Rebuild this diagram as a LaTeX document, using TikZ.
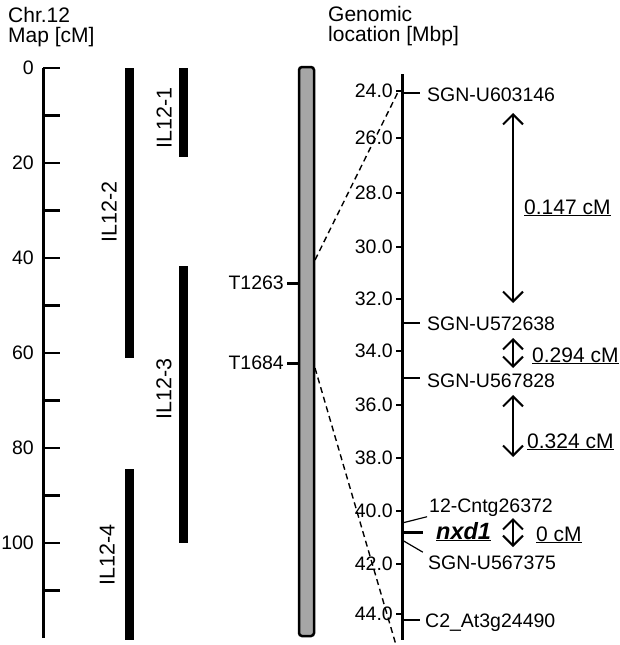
\documentclass[tikz,border=0pt]{standalone}
\usepackage{fontspec}
\setmainfont{Liberation Sans}
\usetikzlibrary{arrows.meta}
\tikzset{
	lbl/.style = {inner sep=0pt, font=\fontsize{19.5}{21}\selectfont},
	title_lbl/.style = {inner sep=0pt, anchor=north west, align=left,
		font=\fontsize{21}{20.5}\selectfont},% column headings
	tick_lbl/.style = {lbl, anchor=east},% axis numbers
	mrk_lbl/.style = {lbl, anchor=base west},% marker names
	dist_lbl/.style = {mrk_lbl, font=\fontsize{21}{22}\selectfont},% distances
	il_lbl/.style = {inner sep=0pt, rotate=90,
		font=\fontsize{21.5}{22}\selectfont},% introgression line names
	il_bar/.style = {fill=black},
	chrom/.style = {draw=black, fill=black!35, line width=2.5pt,
		rounded corners=3pt},
	axis/.style = {line width=3pt},
	tick/.style = {line width=2.5pt},
	mrk_line/.style = {line width=1.2pt},
	link/.style = {line width=1.4pt, dash pattern=on 6pt off 4pt},
	cm_arr/.style = {{Straight Barb[length=10pt,width=20pt]}-{Straight Barb[length=10pt,width=20pt]},
		line width=2pt}
}

\begin{document}
\begin{tikzpicture}[x=1pt, y=-1pt]
	\useasboundingbox (0,0) rectangle (619,645);
	% titles
	\node[title_lbl] (maptitle) at (8,7) {Chr.12\\Map [cM]};
	\node[title_lbl] (loctitle) at (328,6) {Genomic\\location [Mbp]};
	% map axis
	\coordinate (cmtop) at (43,68);
	\coordinate (cmbot) at (43,638);
	\draw[axis] (cmtop) -- (cmbot);
	\foreach \c in {0,10,...,110}{
		\coordinate (cm\c) at (43,{68+4.75*\c});
		\draw[tick] (cm\c) -- ++(17,0);
	}
	\foreach \c in {0,20,...,100}
		\node[tick_lbl] (cmlbl\c) at ([xshift=-9pt]cm\c) {\c};
	% introgression lines
	\fill[il_bar] (125,68) rectangle (134,358);
	\fill[il_bar] (179,68) rectangle (188,157);
	\fill[il_bar] (179,266) rectangle (188,543);
	\fill[il_bar] (125,469) rectangle (134,640);
	\node[il_lbl] (il2) at (109,212) {IL12-2};
	\node[il_lbl] (il1) at (164,118) {IL12-1};
	\node[il_lbl] (il3) at (164,389) {IL12-3};
	\node[il_lbl] (il4) at (107,555) {IL12-4};
	% chromosome
	\draw[chrom] (299,67) rectangle (314,636);
	\coordinate (c1263) at (299,283);
	\coordinate (c1684) at (299,363);
	\node[tick_lbl] (t1263) at (284,283) {T1263};
	\node[tick_lbl] (t1684) at (284,363) {T1684};
	\draw[tick, line width=3pt] ([xshift=3pt]t1263.east) -- (c1263);
	\draw[tick, line width=3pt] ([xshift=3pt]t1684.east) -- (c1684);
	\coordinate (chr_a) at (315,260);
	\coordinate (chr_b) at (315,368);
	\coordinate (ax_a) at (399,90);
	\coordinate (ax_b) at (396,645);
	\draw[link] (chr_a) -- (ax_a);
	\draw[link] (chr_b) -- (ax_b);
	% physical axis
	\coordinate (mbtop) at (402,74);
	\coordinate (mbbot) at (402,640);
	\draw[axis] (mbtop) -- (mbbot);
	\foreach \v/\y [count=\i] in {24.0/91,26.0/138,28.0/193,30.0/247,32.0/299,
			34.0/351,36.0/405,38.0/458,40.0/511,42.0/564,44.0/614}{
		\coordinate (mb\i) at (402,\y);
		\draw[tick] (mb\i) -- ++(-6,0);
		\node[tick_lbl] (mblbl\i) at ([xshift=-9pt]mb\i) {\v};
	}
	% markers
	\coordinate (ax603146) at (402,93);
	\coordinate (ax572638) at (402,323);
	\coordinate (ax567828) at (402,378);
	\coordinate (ax26372) at (402,523);
	\coordinate (axnxd) at (402,532);
	\coordinate (ax567375) at (402,540);
	\coordinate (ax24490) at (402,620);
	\node[mrk_lbl] (u603146) at (427,101) {SGN-U603146};
	\node[mrk_lbl] (u572638) at (427,330) {SGN-U572638};
	\node[mrk_lbl] (u567828) at (427,387) {SGN-U567828};
	\node[mrk_lbl] (c26372) at (429,512) {12-Cntg26372};
	\node[mrk_lbl, font=\fontsize{23.5}{24}\selectfont] (nxd) at (436,539) {\underline{\textbf{\textit{nxd1}}}};
	\node[mrk_lbl] (u567375) at (428,569) {SGN-U567375};
	\node[mrk_lbl] (at24490) at (425,627) {C2\_At3g24490};
	\draw[mrk_line, shorten >=7pt] (ax603146) -- (ax603146 -| u603146.west);
	\draw[mrk_line, shorten >=7pt] (ax572638) -- (ax572638 -| u572638.west);
	\draw[mrk_line, shorten >=7pt] (ax567828) -- (ax567828 -| u567828.west);
	\draw[mrk_line, shorten >=2pt] (ax26372) -- (c26372.south west);
	\draw[mrk_line, line width=3pt, shorten >=13pt] (axnxd) -- (axnxd -| nxd.west);
	\draw[mrk_line, shorten >=6pt] (ax567375) -- (u567375.north west);
	\draw[mrk_line, shorten >=5pt] (ax24490) -- (ax24490 -| at24490.west);
	% genetic distances
	\coordinate (d1t) at (513,113);
	\coordinate (d1b) at (513,303);
	\coordinate (d2t) at (513,338);
	\coordinate (d2b) at (513,368);
	\coordinate (d3t) at (513,395);
	\coordinate (d3b) at (513,457);
	\coordinate (d4t) at (513,518);
	\coordinate (d4b) at (513,547);
	\draw[cm_arr] (d1t) -- (d1b);
	\draw[cm_arr] (d2t) -- (d2b);
	\draw[cm_arr] (d3t) -- (d3b);
	\draw[cm_arr] (d4t) -- (d4b);
	\node[dist_lbl] (dist1) at (524,214) {\underline{0.147 cM}};
	\node[dist_lbl] (dist2) at (532,362) {\underline{0.294 cM}};
	\node[dist_lbl] (dist3) at (527,448) {\underline{0.324 cM}};
	\node[dist_lbl] (dist4) at (536,541) {\underline{0 cM}};
\end{tikzpicture}
\end{document}
